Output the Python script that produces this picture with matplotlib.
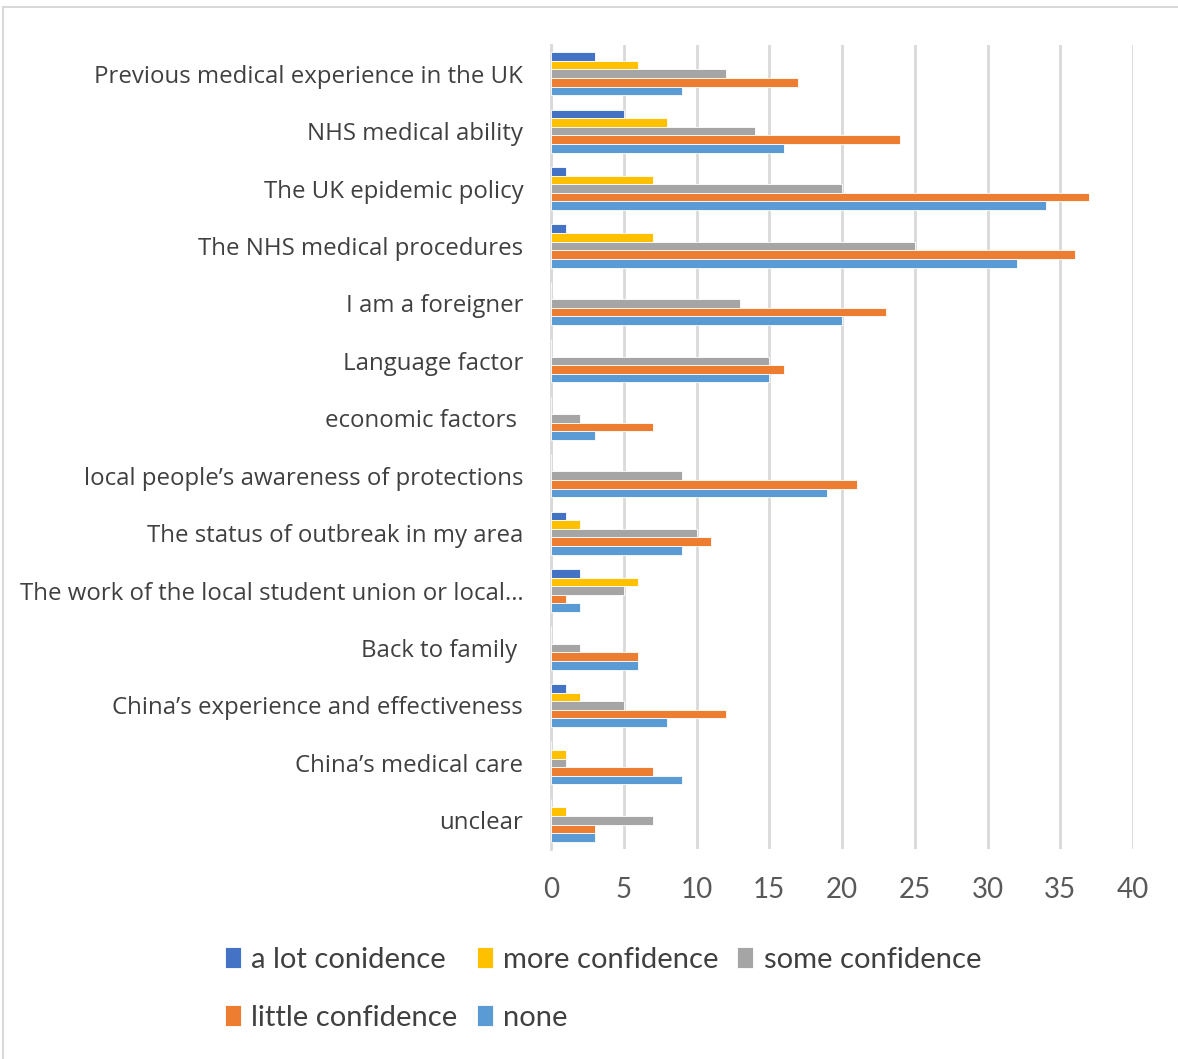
import numpy as np
import matplotlib
matplotlib.use('Agg')
import matplotlib.pyplot as plt
from matplotlib.lines import Line2D

plt.rcParams['font.family'] = ['Lato', 'DejaVu Sans']

categories = [
    'Previous medical experience in the UK',
    'NHS medical ability',
    'The UK epidemic policy',
    'The NHS medical procedures',
    'I am a foreigner',
    'Language factor',
    'economic factors ',
    'local people\u2019s awareness of protections',
    'The status of outbreak in my area',
    'The work of the local student union or local\u2026',
    'Back to family ',
    'China\u2019s experience and effectiveness',
    'China\u2019s medical care',
    'unclear',
]

a_lot = [3, 5, 1, 1, 0, 0, 0, 0, 1, 2, 0, 1, 0, 0]
more = [6, 8, 7, 7, 0, 0, 0, 0, 2, 6, 0, 2, 1, 1]
some = [12, 14, 20, 25, 13, 15, 2, 9, 10, 5, 2, 5, 1, 7]
little = [17, 24, 37, 36, 23, 16, 7, 21, 11, 1, 6, 12, 7, 3]
none = [9, 16, 34, 32, 20, 15, 3, 19, 9, 2, 6, 8, 9, 3]

series = [a_lot, more, some, little, none]
names = ['a lot conidence', 'more confidence', 'some confidence',
         'little confidence', 'none']
colors = ['#4472C4', '#FFC000', '#A5A5A5', '#ED7D31', '#5B9BD5']

fig = plt.figure(figsize=(11.78, 10.59), dpi=100)
ax = fig.add_axes([551 / 1178, 1 - 849 / 1059, 582 / 1178, 804 / 1059])

n = len(categories)
y = np.arange(n)
h = 0.15
bars = []
for i, (vals, c) in enumerate(zip(series, colors)):
    b = ax.barh(y + (i - 2) * h, vals, height=h, color=c,
                edgecolor='white', linewidth=0.6, zorder=3)
    bars.append(b)

ax.set_ylim(n - 0.5, -0.5)
ax.set_xlim(0, 40)
ax.set_xticks(range(0, 41, 5))
ax.set_yticks(y)
ax.set_yticklabels(categories, fontsize=17.3, color='#404040',
                   family=['Open Sans', 'DejaVu Sans'])
ax.tick_params(axis='y', length=0, pad=20)
ax.tick_params(axis='x', length=0, pad=20, labelsize=20, labelcolor='#595959')
ax.grid(axis='x', color='#D9D9D9', linewidth=2, zorder=0)
for s in ['top', 'right', 'bottom']:
    ax.spines[s].set_visible(False)
ax.spines['left'].set_color('#D9D9D9')
ax.spines['left'].set_linewidth(2)

# legend rows like Excel: reorder for column-major fill
order = [0, 3, 1, 4, 2]
leg = fig.legend([bars[i] for i in order], [names[i] for i in order],
                 ncol=3, loc='center', bbox_to_anchor=(0.512, 0.0665),
                 frameon=False, fontsize=21, handlelength=0.55,
                 handleheight=0.75, handletextpad=0.35, columnspacing=0.65,
                 labelspacing=1.1, labelcolor='#404040')

# outer chart border
fig.add_artist(Line2D([3 / 1178, 3 / 1178], [0, 1 - 7 / 1059],
                      transform=fig.transFigure, color='#D9D9D9', lw=1.5))
fig.add_artist(Line2D([3 / 1178, 1], [1 - 7 / 1059, 1 - 7 / 1059],
                      transform=fig.transFigure, color='#D9D9D9', lw=1.5))

fig.savefig('out.png', dpi=100)
